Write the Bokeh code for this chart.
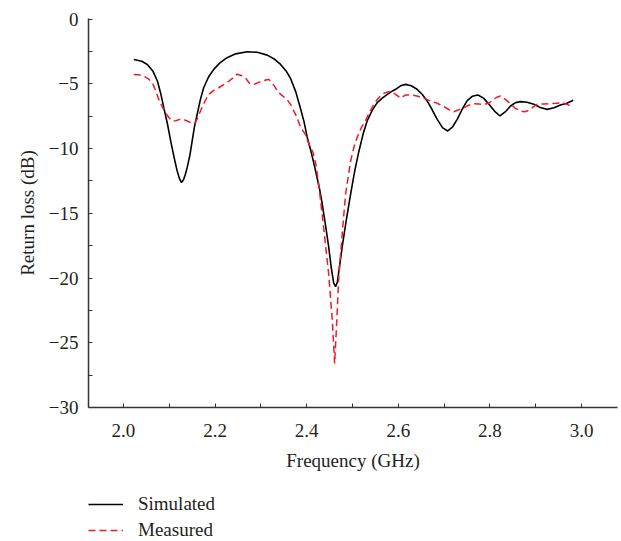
from bokeh.plotting import figure
from bokeh.layouts import column
from bokeh.models import Range1d, FixedTicker, Legend, LegendItem
from bokeh.embed import file_html
from bokeh.resources import INLINE

# ---- data ----
sim_freq = [2.0225, 2.040, 2.052, 2.064, 2.074, 2.081, 2.088, 2.096, 2.103, 2.110,
            2.117, 2.122, 2.1266, 2.131, 2.135, 2.139, 2.145, 2.150, 2.155, 2.161,
            2.168, 2.175, 2.186, 2.197, 2.210, 2.226, 2.245, 2.270, 2.292, 2.314,
            2.330, 2.343, 2.355, 2.365, 2.376, 2.386, 2.394, 2.401, 2.410, 2.416,
            2.428, 2.434, 2.441, 2.448, 2.454, 2.459, 2.463, 2.467, 2.4775, 2.487,
            2.496, 2.505, 2.514, 2.523, 2.532, 2.543, 2.554, 2.565, 2.576, 2.585,
            2.594, 2.605, 2.616, 2.628, 2.641, 2.652, 2.663, 2.674, 2.685, 2.697,
            2.708, 2.718, 2.7286, 2.739, 2.750, 2.762, 2.774, 2.786, 2.798, 2.810,
            2.822, 2.834, 2.845, 2.856, 2.867, 2.881, 2.896, 2.910, 2.925, 2.940,
            2.954, 2.968, 2.982]
sim_db = [-3.11, -3.25, -3.5, -4.0, -4.78, -5.7, -6.84, -8.1, -9.4, -10.6,
          -11.7, -12.3, -12.62, -12.4, -12.0, -11.47, -10.5, -9.41, -8.3, -7.33,
          -6.2, -5.3, -4.45, -3.88, -3.4, -2.98, -2.68, -2.52, -2.56, -2.78,
          -3.1, -3.5, -4.0, -4.6, -5.6, -6.84, -7.9, -9.1, -10.3, -11.2,
          -13.1, -14.3, -15.9, -17.6, -19.3, -20.4, -20.67, -20.3, -17.6, -15.4,
          -13.5, -11.7, -10.2, -8.9, -7.87, -7.05, -6.45, -6.1, -5.81, -5.6,
          -5.42, -5.15, -5.04, -5.15, -5.42, -5.8, -6.32, -7.0, -7.74, -8.4,
          -8.64, -8.35, -7.74, -7.0, -6.32, -5.95, -5.86, -6.1, -6.58, -7.1,
          -7.48, -7.15, -6.71, -6.45, -6.37, -6.42, -6.58, -6.82, -6.97, -6.85,
          -6.63, -6.5, -6.27]

meas_freq = [2.0225, 2.033, 2.044, 2.054, 2.063, 2.070, 2.077, 2.085, 2.092, 2.099,
             2.106, 2.114, 2.123, 2.131, 2.139, 2.147, 2.155, 2.161, 2.168, 2.177,
             2.186, 2.197, 2.208, 2.217, 2.226, 2.237, 2.248, 2.257, 2.266, 2.275,
             2.285, 2.294, 2.303, 2.317, 2.328, 2.339, 2.348, 2.357, 2.365, 2.372,
             2.379, 2.386, 2.397, 2.401, 2.408, 2.414, 2.420, 2.427, 2.437, 2.448,
             2.456, 2.461, 2.465, 2.470, 2.4775, 2.485, 2.496, 2.503, 2.510, 2.519,
             2.528, 2.537, 2.5466, 2.554, 2.561, 2.570, 2.579, 2.587, 2.594, 2.605,
             2.616, 2.628, 2.641, 2.655, 2.670, 2.685, 2.699, 2.711, 2.721, 2.732,
             2.743, 2.754, 2.765, 2.776, 2.787, 2.796, 2.805, 2.814, 2.823, 2.834,
             2.845, 2.856, 2.867, 2.876, 2.885, 2.894, 2.903, 2.918, 2.932, 2.945,
             2.958, 2.970, 2.982]
meas_db = [-4.27, -4.3, -4.4, -4.6, -4.91, -5.5, -6.2, -6.8, -7.23, -7.6,
           -7.87, -7.85, -7.74, -7.75, -7.87, -8.0, -8.07, -7.7, -7.1, -6.4,
           -5.81, -5.5, -5.3, -5.1, -4.91, -4.6, -4.25, -4.35, -4.52, -4.95,
           -5.04, -4.9, -4.78, -4.65, -5.1, -5.68, -5.95, -6.2, -6.6, -7.1,
           -7.61, -8.3, -8.9, -9.3, -9.9, -10.3, -11.2, -13.0, -16.1, -19.7,
           -23.3, -26.6, -23.8, -19.95, -16.6, -13.5, -10.95, -9.9, -9.15, -8.4,
           -7.87, -7.2, -6.58, -6.2, -5.94, -5.7, -5.6, -5.65, -5.81, -6.1,
           -5.85, -5.85, -5.94, -6.1, -6.32, -6.5, -6.75, -7.0, -7.15, -7.0,
           -6.84, -6.65, -6.53, -6.55, -6.6, -6.5, -6.3, -6.05, -5.94, -6.2,
           -6.55, -6.9, -7.1, -7.15, -7.05, -6.8, -6.58, -6.55, -6.53, -6.5,
           -6.45, -6.6, -6.84]

series_names = ["Simulated", "Measured"]
x_ticks = [2.0, 2.2, 2.4, 2.6, 2.8, 3.0]
x_tick_labels = ["2.0", "2.2", "2.4", "2.6", "2.8", "3.0"]
x_minor = [2.1, 2.3, 2.5, 2.7, 2.9]
y_ticks = [0, -5, -10, -15, -20, -25, -30]
y_tick_labels = ["0", "\u22125", "\u221210", "\u221215", "\u221220", "\u221225", "\u221230"]
y_minor = [-2.5, -7.5, -12.5, -17.5, -22.5, -27.5]

FONT = "Liberation Serif"
FS = "19px"
TXT = "#231f20"
SIM_STYLE = dict(line_color="black", line_width=1.6)
MEAS_STYLE = dict(line_color="#ee1c25", line_width=1.5, line_dash="7 4")

p = figure(width=620, height=475, output_backend="svg", toolbar_location=None,
           x_range=Range1d(1.9236, 3.0786), y_range=Range1d(-30, 0.05),
           min_border_left=88, min_border_right=3, min_border_top=18,
           min_border_bottom=68, background_fill_color=None,
           border_fill_color="white", outline_line_color=None)
p.grid.visible = False

p.line(sim_freq, sim_db, **SIM_STYLE)
p.line(meas_freq, meas_db, **MEAS_STYLE)

for ax in (p.xaxis[0], p.yaxis[0]):
    ax.axis_line_color = "#333333"
    ax.axis_line_width = 1.5
    ax.major_tick_in = 4
    ax.major_tick_out = 0
    ax.minor_tick_in = 4
    ax.minor_tick_out = 0
    ax.major_tick_line_color = "#333333"
    ax.minor_tick_line_color = "#333333"
    ax.major_label_text_font = FONT
    ax.major_label_text_font_size = FS
    ax.major_label_text_color = TXT
    ax.axis_label_text_font = FONT
    ax.axis_label_text_font_size = FS
    ax.axis_label_text_font_style = "normal"
    ax.axis_label_text_color = TXT

p.xaxis.ticker = FixedTicker(ticks=x_ticks, minor_ticks=x_minor)
p.xaxis.major_label_overrides = dict(zip(x_ticks, x_tick_labels))
p.xaxis.axis_label = "Frequency (GHz)"
p.xaxis.major_label_standoff = 16
p.xaxis.axis_label_standoff = 10

p.yaxis.ticker = FixedTicker(ticks=y_ticks, minor_ticks=y_minor)
p.yaxis.major_label_overrides = dict(zip(y_ticks, y_tick_labels))
p.yaxis.axis_label = "Return loss (dB)"
p.yaxis.major_label_standoff = 10
p.yaxis.axis_label_standoff = 8

# ---- legend strip below the chart (its data lies outside this strip's view) ----
pl = figure(width=620, height=65, output_backend="svg", toolbar_location=None,
            x_range=Range1d(0, 1), y_range=Range1d(0, 1),
            min_border_left=0, min_border_right=0, min_border_top=0,
            min_border_bottom=0, background_fill_color=None,
            border_fill_color="white", outline_line_color=None)
pl.axis.visible = False
pl.grid.visible = False
d_sim = pl.line(sim_freq, sim_db, **SIM_STYLE)
d_meas = pl.line(meas_freq, meas_db, **MEAS_STYLE)

legend = Legend(items=[LegendItem(label=series_names[0], renderers=[d_sim]),
                       LegendItem(label=series_names[1], renderers=[d_meas])],
                location=(0, -1), orientation="vertical",
                glyph_width=35, glyph_height=18, label_height=18,
                label_standoff=15, spacing=4, padding=0, margin=0,
                border_line_color=None, background_fill_color=None,
                label_text_font=FONT, label_text_font_size=FS,
                label_text_color=TXT)
pl.add_layout(legend, "center")

layout = column(p, pl, spacing=0)
open("out.html", "w").write(file_html(layout, INLINE))
